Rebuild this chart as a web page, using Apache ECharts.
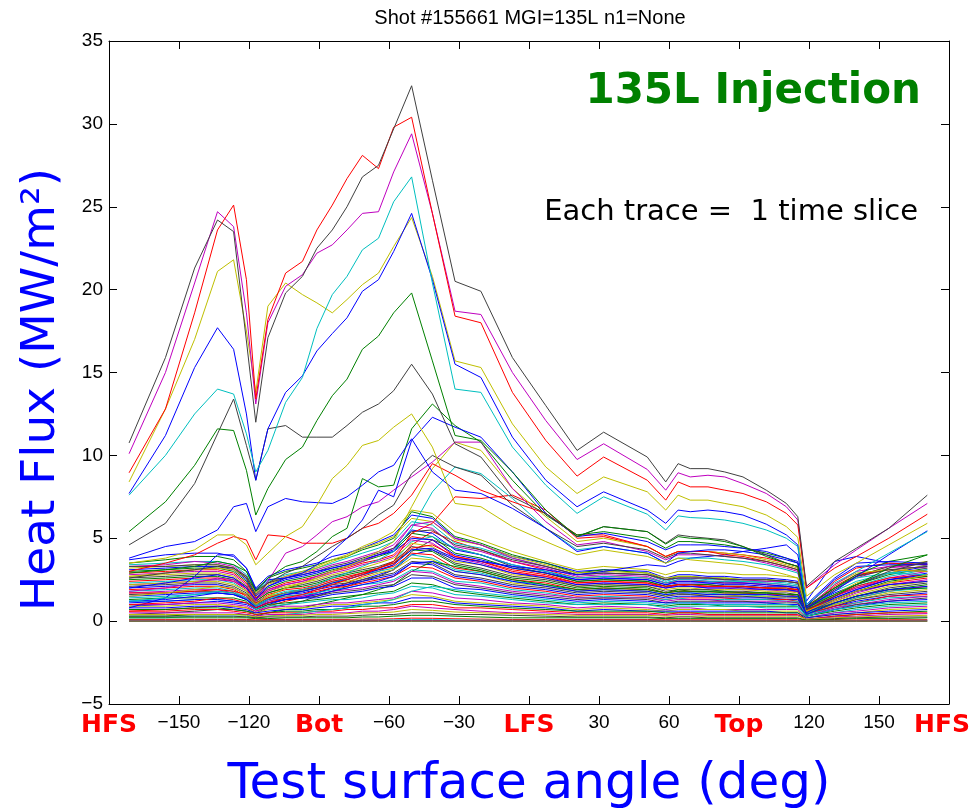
<!DOCTYPE html>
<html>
<head>
<meta charset="utf-8">
<title>Shot #155661 MGI=135L heat flux</title>
<script src="https://cdn.jsdelivr.net/npm/echarts@6/dist/echarts.min.js"></script>
<style>
  html, body { margin: 0; padding: 0; background: #ffffff; }
  #chart { width: 974px; height: 811px; }
</style>
</head>
<body>
<div id="chart"></div>
<script>
// Probe angles along the test surface (deg)
const ANGLES = [-171.4, -155.8, -143.3, -133.5, -126.6, -121.1, -117.1, -111.9, -104.3, -97.1,
                -90.9, -84.3, -78.0, -71.4, -64.5, -58.0, -50.3, -41.4, -31.7, -20.6,
                -7.1, 7.2, 20.6, 32.0, 50.7, 58.6, 63.9, 69.1, 76.7, 83.9,
                91.7, 101.7, 110.3, 115.2, 118.9, 131.0, 140.3, 154.2, 170.7];

// Region names written under the angle axis
const REGION_ANGLES = [-180, -90, 0, 90, 180];
const REGION_NAMES = ['HFS', 'Bot', 'LFS', 'Top', 'HFS'];

// Heat flux (MW/m^2) per time slice — the brightest slices
const K1 = [10.75, 15.9, 21.3, 24.2, 23.5, 16.9, 12.0, 17.1, 19.8, 20.8,
            22.5, 23.6, 25.0, 26.8, 27.5, 29.7, 32.3, 26.6, 20.5, 19.9,
            15.9, 13.0, 10.3, 11.4, 9.9, 8.4, 9.5, 9.2, 9.2, 9.0,
            8.7, 7.9, 7.1, 6.3, 2.1, 3.6, 4.4, 5.6, 7.6];
const R1 = [8.95, 12.8, 18.6, 23.6, 25.1, 20.6, 13.4, 18.2, 21.0, 21.7,
            23.6, 25.1, 26.7, 28.1, 27.3, 29.8, 30.4, 24.6, 18.4, 18.0,
            13.8, 10.9, 8.75, 9.9, 8.5, 7.3, 8.4, 8.1, 8.1, 7.9,
            7.7, 7.2, 6.5, 5.8, 2.0, 3.2, 3.9, 5.0, 6.45];
const M1 = [10.1, 15.0, 20.4, 24.7, 23.8, 18.6, 13.1, 18.0, 20.2, 20.9,
            22.2, 22.7, 23.6, 24.6, 24.7, 27.1, 29.4, 24.6, 18.7, 18.5,
            15.0, 12.1, 9.75, 10.7, 9.15, 7.9, 8.95, 8.7, 8.8, 8.7,
            8.3, 7.7, 6.9, 6.1, 2.0, 3.4, 4.3, 5.6, 7.1];
const C1 = [7.6, 10.0, 12.5, 14.0, 13.7, 11.3, 9.0, 10.3, 13.2, 14.7,
            17.65, 19.7, 20.8, 22.4, 23.1, 25.3, 26.8, 20.4, 14.0, 13.8,
            10.5, 8.2, 6.5, 7.5, 6.45, 5.5, 6.35, 6.25, 6.2, 6.1,
            5.9, 5.5, 5.0, 4.5, 1.0, 2.3, 3.0, 4.1, 5.4];
const B1 = [7.7, 11.2, 15.3, 17.7, 16.4, 12.5, 8.5, 11.6, 13.8, 14.8,
            16.3, 17.35, 18.3, 19.9, 20.6, 22.3, 24.6, 20.6, 15.5, 14.7,
            11.1, 8.5, 6.9, 7.8, 6.7, 5.9, 6.7, 6.6, 6.7, 6.6,
            6.4, 5.85, 5.2, 4.6, 0.8, 1.8, 2.7, 4.0, 5.45];
const Y1 = [8.4, 12.8, 17.0, 21.1, 21.8, 17.5, 13.8, 19.0, 20.4, 19.7,
            19.2, 18.6, 19.4, 20.3, 21.0, 22.6, 24.35, 20.8, 15.7, 15.3,
            11.9, 9.3, 7.7, 8.7, 7.8, 6.7, 7.6, 7.3, 7.3, 7.1,
            6.9, 6.4, 5.7, 5.05, 1.5, 2.8, 3.5, 4.6, 5.9];
const G1 = [5.4, 7.2, 9.4, 11.6, 11.5, 9.1, 6.4, 8.0, 9.75, 10.5,
            12.1, 13.6, 14.6, 16.4, 17.2, 18.6, 19.8, 15.7, 11.2, 10.9,
            9.0, 6.7, 5.1, 5.7, 5.4, 4.65, 5.1, 5.0, 4.95, 4.8,
            4.5, 3.9, 3.5, 3.3, 0.8, 1.6, 2.2, 3.2, 4.0];
const K2 = [4.6, 5.9, 8.3, 11.3, 13.4, 10.6, 8.5, 11.6, 11.8, 11.1,
            11.1, 11.1, 11.8, 12.6, 13.1, 13.9, 15.5, 13.7, 10.7, 9.9,
            7.5, 6.5, 5.1, 5.7, 5.4, 4.7, 5.2, 5.1, 5.0, 4.9,
            4.5, 4.0, 3.5, 3.3, 0.7, 1.5, 2.2, 3.0, 3.6];
const Y2 = [3.5, 3.8, 4.3, 5.2, 5.2, 4.6, 3.4, 4.1, 5.1, 5.7,
            7.0, 8.6, 9.4, 10.6, 10.9, 11.7, 12.5, 10.5, 7.1, 6.9,
            5.7, 4.8, 4.0, 4.3, 3.9, 3.5, 3.8, 3.7, 3.6, 3.5,
            3.4, 3.1, 2.8, 2.6, 0.6, 1.3, 1.8, 2.3, 2.8];

// Intermediate slices
const B2 = [3.8, 4.5, 4.8, 5.5, 6.9, 7.1, 5.4, 6.9, 7.4, 7.2,
            7.15, 7.1, 7.5, 8.2, 9.0, 9.4, 11.0, 9.0, 7.9, 7.7,
            6.8, 5.6, 4.2, 4.5, 4.1, 3.5, 4.1, 4.2, 4.3, 4.3,
            4.2, 4.0, 3.7, 3.5, 0.9, 2.5, 3.3, 3.4, 3.4];
const B3 = [2.0, 2.3, 2.6, 2.8, 2.6, 2.0, 1.3, 2.1, 2.6, 2.9,
            3.4, 4.2, 5.0, 6.1, 7.9, 7.5, 10.9, 12.3, 11.7, 11.1,
            9.0, 6.5, 5.1, 5.3, 4.8, 4.3, 4.6, 4.6, 4.6, 4.5,
            4.4, 4.2, 3.8, 3.6, 1.0, 2.6, 3.5, 3.6, 3.5];
const G2 = [2.9, 3.1, 3.3, 3.6, 3.4, 3.0, 1.8, 2.6, 3.3, 3.6,
            4.2, 5.1, 5.6, 8.6, 8.1, 8.2, 11.6, 13.1, 11.8, 10.8,
            8.5, 6.4, 5.2, 5.4, 5.0, 4.4, 4.8, 4.8, 4.7, 4.6,
            4.4, 4.1, 3.8, 3.5, 0.9, 2.0, 2.8, 3.6, 4.0];
const K3 = [2.6, 2.9, 3.1, 3.3, 3.2, 2.6, 1.6, 2.3, 2.9, 3.3,
            3.9, 4.5, 5.0, 5.6, 6.4, 7.0, 8.9, 10.0, 9.3, 8.8,
            7.0, 5.6, 4.5, 4.7, 4.3, 3.8, 4.1, 4.1, 4.0, 3.9,
            3.8, 3.6, 3.3, 3.1, 0.8, 2.0, 2.7, 3.1, 3.3];
const R2 = [3.0, 3.5, 4.0, 4.7, 5.1, 4.9, 3.7, 5.2, 5.1, 4.7,
            4.7, 4.7, 5.0, 5.6, 5.9, 6.5, 7.6, 9.5, 8.8, 7.9,
            7.2, 6.5, 5.2, 5.2, 4.5, 3.9, 4.2, 4.2, 4.2, 4.0,
            3.9, 3.6, 3.3, 3.1, 0.9, 2.4, 3.2, 3.5, 3.4];
const M2 = [1.8, 2.0, 2.3, 2.6, 2.5, 2.0, 1.2, 2.4, 4.1, 4.5,
            5.2, 6.0, 6.3, 6.9, 7.2, 7.9, 8.7, 9.6, 10.8, 10.8,
            8.0, 6.0, 4.6, 4.8, 4.2, 3.7, 4.0, 4.0, 4.0, 3.9,
            3.8, 3.5, 3.2, 3.0, 0.8, 2.2, 3.0, 3.3, 3.2];
const Y3 = [1.5, 1.7, 1.9, 2.1, 2.0, 1.6, 1.0, 1.5, 2.0, 2.3,
            2.6, 3.0, 3.3, 3.7, 4.2, 4.8, 6.9, 9.2, 10.8, 10.3,
            8.0, 6.3, 4.8, 5.0, 4.5, 3.9, 4.2, 4.2, 4.2, 4.1,
            4.0, 3.7, 3.4, 3.2, 0.8, 2.2, 2.9, 3.1, 3.0];
const C2 = [1.2, 1.4, 1.6, 1.8, 1.7, 1.4, 0.9, 1.3, 1.7, 1.9,
            2.2, 2.6, 2.9, 3.3, 3.7, 4.2, 5.6, 7.8, 9.3, 8.9,
            7.4, 5.6, 4.3, 4.5, 4.1, 3.5, 3.8, 3.8, 3.8, 3.7,
            3.6, 3.4, 3.1, 2.9, 0.8, 2.0, 2.6, 2.9, 2.8];
const R3 = [1.0, 1.1, 1.2, 1.4, 1.3, 1.1, 0.8, 1.1, 1.4, 1.6,
            1.9, 2.2, 2.5, 2.8, 3.2, 3.6, 5.3, 5.9, 7.5, 7.4,
            7.6, 6.7, 5.0, 5.1, 4.5, 3.9, 4.2, 4.2, 4.2, 4.1,
            4.0, 3.8, 3.5, 3.3, 0.8, 2.1, 2.8, 3.1, 3.0];
const B4 = [1.2, 1.3, 1.5, 1.7, 1.6, 1.3, 0.9, 1.3, 1.6, 1.8,
            2.0, 2.3, 2.5, 2.8, 3.1, 3.4, 4.3, 4.4, 3.8, 3.6,
            3.3, 3.1, 2.8, 3.0, 3.4, 3.3, 3.6, 3.8, 3.9, 4.0,
            4.2, 4.4, 4.6, 4.0, 1.2, 3.6, 3.9, 3.5, 3.4];
const B5 = [0.8, 1.4, 2.7, 4.0, 4.0, 3.2, 1.9, 2.5, 2.6, 2.8,
            3.0, 3.2, 3.4, 3.7, 4.0, 4.2, 5.0, 4.9, 4.0, 3.7,
            3.2, 2.9, 2.5, 2.6, 2.5, 2.2, 2.4, 2.4, 2.3, 2.3,
            2.3, 2.2, 2.1, 2.0, 0.5, 1.4, 1.9, 2.5, 2.8];

// Dense band of quieter slices
const BAND_UPPER = [
  [3.7, 4.0, 4.1, 4.1, 3.9, 3.2, 2.0, 2.7, 3.1, 3.3, 3.5, 3.9, 4.1, 4.4, 4.8, 5.2, 6.4, 6.2, 5.0, 4.6, 3.9, 3.5, 3.0, 3.1, 3.0, 2.6, 2.8, 2.8, 2.7, 2.7, 2.6, 2.6, 2.5, 2.4, 0.9, 1.7, 2.2, 2.9, 3.3],
  [3.5, 3.7, 3.9, 3.9, 3.7, 3.0, 1.9, 2.6, 3.0, 3.2, 3.4, 3.7, 3.9, 4.3, 4.6, 5.0, 6.6, 6.3, 5.1, 4.7, 4.0, 3.5, 2.9, 3.1, 2.9, 2.5, 2.7, 2.7, 2.6, 2.6, 2.5, 2.5, 2.4, 2.3, 0.9, 1.6, 2.2, 2.8, 3.2],
  [3.4, 3.5, 3.6, 3.6, 3.4, 2.8, 1.8, 2.4, 2.8, 3.0, 3.2, 3.5, 3.8, 4.1, 4.4, 4.8, 6.0, 5.8, 4.7, 4.4, 3.8, 3.3, 2.8, 2.9, 2.8, 2.4, 2.6, 2.6, 2.5, 2.5, 2.4, 2.4, 2.3, 2.2, 0.8, 1.5, 2.1, 2.7, 3.1],
  [3.3, 3.4, 3.6, 3.5, 3.3, 2.7, 1.6, 2.3, 2.7, 2.9, 3.1, 3.4, 3.6, 3.9, 4.2, 4.6, 5.8, 5.6, 4.5, 4.2, 3.6, 3.2, 2.7, 2.8, 2.7, 2.3, 2.5, 2.5, 2.4, 2.4, 2.3, 2.3, 2.2, 2.1, 0.8, 1.5, 2.0, 2.6, 3.0],
  [3.2, 3.3, 3.4, 3.4, 3.2, 2.6, 1.5, 2.2, 2.6, 2.9, 3.2, 3.6, 3.9, 4.4, 4.7, 5.1, 6.2, 6.0, 4.9, 4.6, 3.9, 3.4, 2.9, 3.0, 2.9, 2.6, 2.7, 2.7, 2.6, 2.6, 2.5, 2.5, 2.4, 2.3, 0.8, 1.6, 2.3, 2.9, 3.4],
  [3.1, 3.2, 3.3, 3.3, 3.1, 2.5, 1.5, 2.1, 2.5, 2.7, 2.9, 3.2, 3.4, 3.7, 4.0, 4.3, 5.5, 5.3, 4.3, 4.0, 3.4, 3.0, 2.5, 2.6, 2.5, 2.2, 2.3, 2.3, 2.3, 2.2, 2.2, 2.1, 2.1, 2.0, 0.7, 1.4, 1.9, 2.5, 2.9],
  [3.0, 3.1, 3.2, 3.2, 3.0, 2.4, 1.4, 2.0, 2.4, 2.6, 2.8, 3.1, 3.3, 3.6, 3.9, 4.2, 5.3, 5.1, 4.1, 3.8, 3.2, 2.9, 2.4, 2.5, 2.4, 2.1, 2.2, 2.2, 2.2, 2.1, 2.1, 2.0, 2.0, 1.9, 0.7, 1.3, 1.8, 2.4, 2.7],
  [2.9, 3.0, 3.1, 3.1, 2.9, 2.3, 1.4, 1.9, 2.3, 2.5, 2.7, 3.0, 3.2, 3.5, 3.7, 4.0, 5.1, 4.9, 3.9, 3.6, 3.1, 2.8, 2.3, 2.4, 2.3, 2.0, 2.2, 2.1, 2.1, 2.1, 2.0, 2.0, 1.9, 1.9, 0.7, 1.3, 1.8, 2.3, 2.6],
  [2.8, 2.9, 3.0, 3.0, 2.8, 2.2, 1.3, 1.9, 2.2, 2.4, 2.6, 2.9, 3.1, 3.4, 3.6, 3.9, 4.9, 4.7, 3.8, 3.5, 2.9, 2.7, 2.2, 2.3, 2.2, 2.0, 2.1, 2.1, 2.0, 2.0, 1.9, 1.9, 1.8, 1.8, 0.6, 1.2, 1.7, 2.2, 2.5],
  [2.7, 2.8, 2.9, 2.9, 2.7, 2.1, 1.3, 1.8, 2.1, 2.3, 2.5, 2.8, 3.0, 3.2, 3.5, 3.8, 4.7, 4.5, 3.6, 3.4, 2.8, 2.6, 2.1, 2.2, 2.1, 1.9, 2.0, 2.0, 1.9, 1.9, 1.9, 1.8, 1.8, 1.7, 0.6, 1.2, 1.6, 2.1, 2.4],
  [2.6, 2.7, 2.8, 2.8, 2.6, 2.1, 1.2, 1.7, 2.0, 2.2, 2.4, 2.7, 2.9, 3.1, 3.3, 3.6, 4.5, 4.3, 3.5, 3.2, 2.7, 2.5, 2.1, 2.2, 2.1, 1.8, 1.9, 1.9, 1.9, 1.8, 1.8, 1.7, 1.7, 1.6, 0.6, 1.1, 1.5, 2.0, 2.3],
  [2.5, 2.6, 2.7, 2.7, 2.5, 2.0, 1.2, 1.7, 2.0, 2.1, 2.3, 2.6, 2.8, 3.0, 3.2, 3.5, 4.3, 4.2, 3.4, 3.1, 2.6, 2.4, 2.0, 2.1, 2.0, 1.7, 1.9, 1.8, 1.8, 1.8, 1.7, 1.7, 1.6, 1.6, 0.5, 1.1, 1.5, 1.9, 2.2]
];
const BAND_MIDDLE = [
  [2.4, 2.5, 2.6, 2.6, 2.4, 1.9, 1.1, 1.6, 1.9, 2.0, 2.2, 2.5, 2.7, 2.9, 3.1, 3.3, 4.1, 4.0, 3.2, 3.0, 2.5, 2.3, 1.9, 2.0, 1.9, 1.7, 1.8, 1.8, 1.7, 1.7, 1.7, 1.6, 1.6, 1.5, 0.5, 1.0, 1.4, 1.8, 2.1],
  [2.3, 2.4, 2.5, 2.5, 2.3, 1.8, 1.1, 1.5, 1.8, 1.9, 2.1, 2.4, 2.5, 2.8, 3.0, 3.2, 4.0, 3.8, 3.1, 2.9, 2.4, 2.2, 1.8, 1.9, 1.8, 1.6, 1.7, 1.7, 1.7, 1.6, 1.6, 1.5, 1.5, 1.5, 0.5, 1.0, 1.4, 1.8, 2.0],
  [2.2, 2.3, 2.4, 2.4, 2.2, 1.8, 1.0, 1.5, 1.7, 1.9, 2.0, 2.3, 2.4, 2.6, 2.9, 3.1, 3.8, 3.7, 3.0, 2.8, 2.3, 2.1, 1.8, 1.9, 1.8, 1.5, 1.7, 1.6, 1.6, 1.6, 1.5, 1.5, 1.5, 1.4, 0.4, 1.0, 1.3, 1.7, 1.9],
  [2.1, 2.2, 2.3, 2.3, 2.1, 1.7, 1.0, 1.4, 1.7, 1.8, 2.0, 2.2, 2.3, 2.5, 2.7, 2.9, 3.6, 3.5, 2.8, 2.6, 2.2, 2.0, 1.7, 1.8, 1.7, 1.5, 1.6, 1.6, 1.5, 1.5, 1.5, 1.4, 1.4, 1.4, 0.4, 0.9, 1.3, 1.6, 1.8],
  [2.0, 2.1, 2.2, 2.2, 2.0, 1.6, 0.9, 1.3, 1.6, 1.7, 1.9, 2.1, 2.2, 2.4, 2.6, 2.8, 3.5, 3.4, 2.7, 2.5, 2.1, 1.9, 1.6, 1.7, 1.6, 1.4, 1.5, 1.5, 1.5, 1.4, 1.4, 1.4, 1.3, 1.3, 0.4, 0.9, 1.2, 1.5, 1.7],
  [1.9, 2.0, 2.1, 2.1, 1.9, 1.5, 0.9, 1.3, 1.5, 1.6, 1.8, 2.0, 2.1, 2.3, 2.5, 2.7, 3.3, 3.2, 2.6, 2.4, 2.0, 1.8, 1.5, 1.6, 1.5, 1.3, 1.4, 1.4, 1.4, 1.4, 1.3, 1.3, 1.3, 1.2, 0.4, 0.9, 1.1, 1.5, 1.6],
  [1.8, 1.9, 2.0, 2.0, 1.8, 1.4, 0.9, 1.2, 1.5, 1.6, 1.7, 1.9, 2.0, 2.2, 2.3, 2.5, 3.1, 3.0, 2.4, 2.3, 1.9, 1.7, 1.4, 1.5, 1.4, 1.3, 1.4, 1.3, 1.3, 1.3, 1.3, 1.3, 1.2, 1.2, 0.4, 0.8, 1.1, 1.4, 1.5],
  [1.7, 1.8, 1.9, 1.9, 1.7, 1.4, 0.8, 1.2, 1.4, 1.5, 1.6, 1.8, 1.9, 2.0, 2.2, 2.4, 3.0, 2.9, 2.3, 2.1, 1.8, 1.6, 1.4, 1.4, 1.4, 1.2, 1.3, 1.3, 1.3, 1.2, 1.2, 1.2, 1.2, 1.1, 0.3, 0.8, 1.0, 1.3, 1.5],
  [1.6, 1.7, 1.8, 1.8, 1.7, 1.3, 0.8, 1.1, 1.3, 1.4, 1.5, 1.7, 1.8, 1.9, 2.1, 2.2, 2.8, 2.7, 2.2, 2.0, 1.7, 1.5, 1.3, 1.4, 1.3, 1.1, 1.2, 1.2, 1.2, 1.2, 1.2, 1.1, 1.1, 1.1, 0.3, 0.7, 1.0, 1.2, 1.4],
  [1.5, 1.6, 1.7, 1.7, 1.6, 1.3, 0.8, 1.1, 1.3, 1.4, 1.4, 1.6, 1.7, 1.8, 2.0, 2.1, 2.6, 2.6, 2.0, 1.9, 1.6, 1.4, 1.2, 1.3, 1.2, 1.1, 1.1, 1.1, 1.1, 1.1, 1.1, 1.1, 1.0, 1.0, 0.3, 0.7, 0.9, 1.2, 1.3]
];
// Slices that start low on the HFS side and brighten later
const BAND_LATE = [
  [0.6, 0.7, 0.8, 0.9, 0.9, 0.8, 0.6, 0.9, 1.2, 1.4, 1.7, 2.0, 2.3, 2.7, 3.0, 3.4, 4.6, 5.4, 4.8, 4.3, 3.6, 3.1, 2.6, 2.7, 2.6, 2.3, 2.4, 2.4, 2.4, 2.3, 2.3, 2.2, 2.1, 2.0, 0.6, 1.5, 2.0, 2.5, 2.7],
  [0.4, 0.5, 0.6, 0.7, 0.7, 0.6, 0.5, 0.8, 1.0, 1.2, 1.5, 1.8, 2.1, 2.4, 2.7, 3.1, 4.2, 4.9, 4.4, 4.0, 3.3, 2.9, 2.4, 2.5, 2.4, 2.1, 2.2, 2.2, 2.2, 2.1, 2.1, 2.0, 1.9, 1.8, 0.5, 1.3, 1.8, 2.2, 2.4],
  [1.4, 1.5, 1.6, 1.7, 1.6, 1.4, 1.0, 1.3, 1.6, 1.8, 2.0, 2.3, 2.6, 2.9, 3.2, 3.6, 4.8, 5.1, 4.4, 4.0, 3.4, 3.0, 2.6, 2.7, 2.6, 2.3, 2.5, 2.5, 2.4, 2.4, 2.4, 2.3, 2.2, 2.1, 0.7, 1.8, 2.4, 2.9, 3.1],
  [0.9, 1.0, 1.1, 1.2, 1.1, 1.0, 0.7, 1.0, 1.3, 1.5, 1.7, 2.0, 2.2, 2.5, 2.8, 3.1, 4.0, 4.3, 3.7, 3.4, 2.9, 2.6, 2.2, 2.3, 2.2, 2.0, 2.1, 2.1, 2.0, 2.0, 2.0, 1.9, 1.9, 1.8, 0.5, 1.3, 1.8, 2.2, 2.4],
  [2.2, 2.3, 2.4, 2.5, 2.4, 2.0, 1.3, 1.8, 2.2, 2.4, 2.7, 3.0, 3.3, 3.6, 4.0, 4.4, 5.8, 6.0, 5.0, 4.6, 3.8, 3.3, 2.8, 2.9, 2.8, 2.5, 2.6, 2.6, 2.6, 2.5, 2.5, 2.4, 2.4, 2.3, 0.8, 1.9, 2.6, 3.2, 3.5],
  [0.3, 0.3, 0.4, 0.4, 0.4, 0.4, 0.3, 0.5, 0.7, 0.8, 1.0, 1.2, 1.4, 1.6, 1.9, 2.2, 3.0, 3.6, 3.3, 3.0, 2.5, 2.2, 1.9, 2.0, 1.9, 1.7, 1.8, 1.8, 1.8, 1.7, 1.7, 1.7, 1.6, 1.6, 0.4, 1.1, 1.5, 1.9, 2.0],
  [2.7, 2.9, 3.1, 3.2, 3.1, 2.6, 1.7, 2.3, 2.7, 3.0, 3.3, 3.7, 4.0, 4.5, 4.9, 5.4, 6.7, 6.5, 5.4, 4.9, 4.2, 3.6, 3.1, 3.3, 3.1, 2.8, 3.0, 3.0, 2.9, 2.9, 2.8, 2.8, 2.7, 2.6, 0.9, 2.0, 2.7, 3.3, 3.6],
  [1.7, 1.7, 1.8, 1.9, 1.8, 1.6, 1.1, 1.4, 1.7, 1.9, 2.1, 2.4, 2.6, 2.9, 3.2, 3.5, 4.4, 4.6, 3.9, 3.6, 3.0, 2.7, 2.3, 2.4, 2.3, 2.1, 2.2, 2.2, 2.1, 2.1, 2.1, 2.0, 2.0, 1.9, 0.6, 1.5, 2.1, 2.6, 2.8],
  [3.3, 3.3, 3.4, 3.4, 3.2, 2.7, 1.8, 2.3, 2.6, 2.8, 3.0, 3.3, 3.5, 3.8, 4.1, 4.4, 5.4, 5.5, 4.6, 4.3, 3.7, 3.3, 2.8, 2.9, 2.8, 2.5, 2.6, 2.6, 2.6, 2.5, 2.5, 2.5, 2.4, 2.3, 0.7, 1.9, 2.7, 3.3, 3.5],
  [0.2, 0.2, 0.3, 0.3, 0.3, 0.3, 0.2, 0.3, 0.4, 0.5, 0.6, 0.7, 0.8, 1.0, 1.1, 1.3, 1.8, 2.1, 1.9, 1.7, 1.5, 1.3, 1.1, 1.2, 1.1, 1.0, 1.1, 1.1, 1.0, 1.0, 1.0, 1.0, 1.0, 0.9, 0.3, 0.7, 0.9, 1.1, 1.2],
  [1.1, 1.2, 1.3, 1.3, 1.2, 1.1, 0.8, 1.1, 1.3, 1.4, 1.6, 1.8, 2.0, 2.2, 2.4, 2.7, 3.5, 3.6, 3.0, 2.8, 2.4, 2.1, 1.8, 1.9, 1.8, 1.6, 1.7, 1.7, 1.6, 1.6, 1.6, 1.6, 1.5, 1.5, 0.4, 1.1, 1.5, 1.9, 2.1],
  [2.5, 2.7, 2.9, 3.0, 2.8, 2.3, 1.5, 2.1, 2.5, 2.7, 3.0, 3.3, 3.6, 4.0, 4.3, 4.7, 6.1, 6.4, 5.5, 5.0, 4.2, 3.6, 3.0, 3.1, 3.0, 2.7, 2.8, 2.8, 2.8, 2.7, 2.7, 2.6, 2.5, 2.4, 0.8, 2.0, 2.8, 3.4, 3.7]
];
const BAND_LOWER = [
  [1.3, 1.4, 1.4, 1.4, 1.4, 1.2, 0.7, 1.0, 1.1, 1.2, 1.3, 1.4, 1.5, 1.6, 1.7, 1.8, 2.3, 2.2, 1.8, 1.6, 1.4, 1.2, 1.0, 1.1, 1.0, 0.9, 1.0, 1.0, 1.0, 0.9, 0.9, 0.9, 0.9, 0.9, 0.3, 0.6, 0.8, 1.0, 1.1],
  [1.2, 1.2, 1.3, 1.3, 1.2, 1.1, 0.7, 0.9, 1.0, 1.1, 1.2, 1.3, 1.3, 1.4, 1.6, 1.7, 2.1, 2.0, 1.6, 1.5, 1.3, 1.1, 1.0, 1.0, 1.0, 0.8, 0.9, 0.9, 0.9, 0.9, 0.9, 0.8, 0.8, 0.8, 0.2, 0.5, 0.7, 0.9, 1.0],
  [1.0, 1.0, 1.1, 1.1, 1.0, 0.9, 0.6, 0.8, 0.9, 0.9, 1.0, 1.1, 1.1, 1.2, 1.3, 1.4, 1.8, 1.7, 1.4, 1.3, 1.1, 1.0, 0.8, 0.9, 0.8, 0.7, 0.8, 0.8, 0.7, 0.7, 0.7, 0.7, 0.7, 0.7, 0.2, 0.5, 0.6, 0.8, 0.9],
  [0.9, 0.9, 1.0, 1.0, 0.9, 0.8, 0.5, 0.7, 0.8, 0.8, 0.9, 1.0, 1.0, 1.1, 1.2, 1.3, 1.6, 1.5, 1.2, 1.1, 1.0, 0.9, 0.7, 0.8, 0.7, 0.6, 0.7, 0.7, 0.7, 0.7, 0.6, 0.6, 0.6, 0.6, 0.2, 0.4, 0.5, 0.7, 0.8],
  [0.8, 0.8, 0.9, 0.9, 0.8, 0.7, 0.5, 0.6, 0.7, 0.7, 0.8, 0.9, 0.9, 1.0, 1.1, 1.1, 1.4, 1.4, 1.1, 1.0, 0.9, 0.8, 0.6, 0.7, 0.6, 0.6, 0.6, 0.6, 0.6, 0.6, 0.6, 0.6, 0.5, 0.5, 0.2, 0.4, 0.5, 0.6, 0.7],
  [0.7, 0.7, 0.8, 0.8, 0.7, 0.6, 0.4, 0.5, 0.6, 0.6, 0.7, 0.7, 0.8, 0.9, 0.9, 1.0, 1.2, 1.2, 1.0, 0.9, 0.8, 0.7, 0.6, 0.6, 0.6, 0.5, 0.5, 0.5, 0.5, 0.5, 0.5, 0.5, 0.5, 0.5, 0.1, 0.3, 0.4, 0.5, 0.6],
  [0.6, 0.6, 0.7, 0.7, 0.6, 0.5, 0.4, 0.5, 0.5, 0.5, 0.6, 0.6, 0.7, 0.7, 0.8, 0.8, 1.0, 1.0, 0.8, 0.8, 0.7, 0.6, 0.5, 0.5, 0.5, 0.4, 0.5, 0.5, 0.4, 0.4, 0.4, 0.4, 0.4, 0.4, 0.1, 0.3, 0.4, 0.5, 0.5],
  [0.5, 0.5, 0.5, 0.5, 0.5, 0.4, 0.3, 0.4, 0.4, 0.4, 0.5, 0.5, 0.5, 0.6, 0.6, 0.7, 0.9, 0.8, 0.7, 0.6, 0.5, 0.5, 0.4, 0.4, 0.4, 0.35, 0.4, 0.4, 0.35, 0.35, 0.35, 0.35, 0.35, 0.35, 0.1, 0.25, 0.3, 0.4, 0.45],
  [0.4, 0.4, 0.4, 0.4, 0.4, 0.35, 0.25, 0.3, 0.35, 0.35, 0.4, 0.4, 0.45, 0.5, 0.5, 0.55, 0.7, 0.65, 0.55, 0.5, 0.45, 0.4, 0.35, 0.35, 0.35, 0.3, 0.3, 0.3, 0.3, 0.3, 0.3, 0.3, 0.3, 0.3, 0.1, 0.2, 0.25, 0.3, 0.35],
  [0.3, 0.3, 0.3, 0.3, 0.3, 0.25, 0.2, 0.25, 0.25, 0.25, 0.3, 0.3, 0.3, 0.35, 0.4, 0.4, 0.5, 0.5, 0.4, 0.4, 0.35, 0.3, 0.25, 0.25, 0.25, 0.2, 0.25, 0.25, 0.2, 0.2, 0.2, 0.2, 0.2, 0.2, 0.05, 0.15, 0.2, 0.25, 0.25],
  [0.2, 0.2, 0.2, 0.2, 0.2, 0.2, 0.15, 0.15, 0.2, 0.2, 0.2, 0.2, 0.2, 0.25, 0.25, 0.3, 0.35, 0.35, 0.3, 0.25, 0.2, 0.2, 0.2, 0.2, 0.2, 0.15, 0.15, 0.15, 0.15, 0.15, 0.15, 0.15, 0.15, 0.15, 0.05, 0.1, 0.15, 0.15, 0.2]
];
const BAND_FLOOR = [
  [0.1, 0.1, 0.1, 0.1, 0.1, 0.1, 0.08, 0.1, 0.1, 0.1, 0.1, 0.1, 0.1, 0.12, 0.12, 0.14, 0.18, 0.17, 0.14, 0.12, 0.1, 0.1, 0.1, 0.1, 0.1, 0.08, 0.08, 0.08, 0.08, 0.08, 0.08, 0.08, 0.08, 0.08, 0.03, 0.06, 0.07, 0.08, 0.09],
  [0.05, 0.05, 0.05, 0.05, 0.05, 0.05, 0.04, 0.05, 0.05, 0.05, 0.05, 0.05, 0.05, 0.06, 0.06, 0.07, 0.09, 0.09, 0.07, 0.06, 0.05, 0.05, 0.05, 0.05, 0.05, 0.04, 0.04, 0.04, 0.04, 0.04, 0.04, 0.04, 0.04, 0.04, 0.02, 0.03, 0.03, 0.04, 0.05],
  [0.02, 0.02, 0.02, 0.02, 0.02, 0.02, 0.02, 0.02, 0.02, 0.02, 0.02, 0.02, 0.02, 0.03, 0.03, 0.03, 0.04, 0.04, 0.03, 0.03, 0.02, 0.02, 0.02, 0.02, 0.02, 0.02, 0.02, 0.02, 0.02, 0.02, 0.02, 0.02, 0.02, 0.02, 0.01, 0.01, 0.02, 0.02, 0.02],
  [0, 0, 0, 0, 0, 0, 0, 0, 0, 0, 0, 0, 0, 0, 0, 0, 0, 0, 0, 0, 0, 0, 0, 0, 0, 0, 0, 0, 0, 0, 0, 0, 0, 0, 0, 0, 0, 0, 0],
  [0, 0, 0, 0, 0, 0, 0, 0, 0, 0, 0, 0, 0, 0, 0, 0, 0, 0, 0, 0, 0, 0, 0, 0, 0, 0, 0, 0, 0, 0, 0, 0, 0, 0, 0, 0, 0, 0, 0]
];

// MATLAB-style line colour order
const BLUE = '#0000FF', GREEN = '#008000', RED = '#FF0000', CYAN = '#00BFBF',
      MAGENTA = '#BF00BF', OLIVE = '#BFBF00', DARK = '#404040';
const COLOR_ORDER = [BLUE, GREEN, RED, CYAN, MAGENTA, OLIVE, DARK];

// Interleave the late-brightening slices with the steady ones so colours mix
const bandRows = [];
const steady = [].concat(BAND_UPPER, BAND_MIDDLE, BAND_LOWER);
steady.forEach((row, i) => {
  bandRows.push(row);
  if (i % 3 === 1 && BAND_LATE[(i - 1) / 3]) bandRows.push(BAND_LATE[(i - 1) / 3]);
});
BAND_FLOOR.forEach(row => bandRows.push(row));

const traces = [];
bandRows.forEach((row, i) => traces.push({ values: row, color: COLOR_ORDER[i % COLOR_ORDER.length] }));
[
  [B5, BLUE], [B4, BLUE], [R3, RED], [C2, CYAN], [Y3, OLIVE], [M2, MAGENTA], [R2, RED],
  [K3, DARK], [G2, GREEN], [B3, BLUE], [B2, BLUE], [Y2, OLIVE], [K2, DARK], [G1, GREEN],
  [Y1, OLIVE], [B1, BLUE], [C1, CYAN], [M1, MAGENTA], [R1, RED], [K1, DARK]
].forEach(([values, color]) => traces.push({ values, color }));

const series = traces.map(t => ({
  type: 'line',
  data: ANGLES.map((a, i) => [a, t.values[i]]),
  showSymbol: false,
  symbol: 'none',
  silent: true,
  lineStyle: { width: 1, color: t.color },
  itemStyle: { color: t.color },
  emphasis: { disabled: true }
}));

function angleLabel(v) {
  const k = REGION_ANGLES.indexOf(v);
  if (k >= 0) return (v === 180 ? '{regionEnd|' : '{region|') + REGION_NAMES[k] + '}';
  return '{num|' + (v < 0 ? '\u2212' + (-v) : String(v)) + '}';
}

const frameAxis = {
  axisLine: { show: true, onZero: false, lineStyle: { color: '#000', width: 1 } },
  axisTick: { show: true, inside: true, length: 8, lineStyle: { color: '#000', width: 1 } },
  splitLine: { show: false }
};
const REGION_STYLE = { fontFamily: 'DejaVu Sans', fontWeight: 'bold', fontSize: 25, color: '#FF0000' };

const chart = echarts.init(document.getElementById('chart'), null, { renderer: 'canvas' });
chart.setOption({
  animation: false,
  backgroundColor: '#ffffff',
  grid: { left: 109, right: 25, top: 41, bottom: 107, containLabel: false, outerBoundsMode: 'none' },
  xAxis: [
    Object.assign({
      type: 'value', min: -180, max: 180, interval: 30, position: 'bottom',
      axisLabel: {
        margin: 9, showMinLabel: true, showMaxLabel: true, hideOverlap: false,
        formatter: angleLabel,
        rich: {
          num: { fontFamily: 'Liberation Sans', fontSize: 19, color: '#000' },
          region: REGION_STYLE,
          regionEnd: Object.assign({}, REGION_STYLE, { padding: [0, 14, 0, 0] })
        }
      },
      name: 'Test surface angle (deg)', nameLocation: 'middle', nameGap: 56,
      nameTextStyle: { fontFamily: 'DejaVu Sans', fontSize: 50, color: '#0000FF' }
    }, frameAxis),
    Object.assign({
      type: 'value', min: -180, max: 180, interval: 30, position: 'top',
      axisLabel: { show: false }
    }, frameAxis)
  ],
  yAxis: [
    Object.assign({
      type: 'value', min: -5, max: 35, interval: 5, position: 'left',
      axisLabel: { margin: 6, color: '#000', fontFamily: 'Liberation Sans', fontSize: 19,
                   formatter: v => (v < 0 ? '\u2212' + (-v) : String(v)) },
      name: 'Heat Flux (MW/m\u00B2)', nameLocation: 'middle', nameGap: 44, nameRotate: 90,
      nameTextStyle: { fontFamily: 'DejaVu Sans', fontSize: 47, color: '#0000FF', padding: [0, 34, 0, 0] }
    }, frameAxis),
    Object.assign({
      type: 'value', min: -5, max: 35, interval: 5, position: 'right',
      axisLabel: { show: false }
    }, frameAxis)
  ],
  graphic: [
    { type: 'text', x: 530, y: 18, silent: true,
      style: { text: 'Shot #155661 MGI=135L n1=None', fontFamily: 'Liberation Sans', fontSize: 20,
               fill: '#000', align: 'center', verticalAlign: 'middle' } },
    { type: 'text', x: 921, y: 92, silent: true,
      style: { text: '135L Injection', fontFamily: 'DejaVu Sans', fontWeight: 'bold', fontSize: 42,
               fill: '#008000', align: 'right', verticalAlign: 'middle' } },
    { type: 'text', x: 918, y: 212, silent: true,
      style: { text: 'Each trace =  1 time slice', fontFamily: 'DejaVu Sans', fontSize: 29,
               fill: '#000', align: 'right', verticalAlign: 'middle' } }
  ],
  series: series
});
</script>
</body>
</html>
